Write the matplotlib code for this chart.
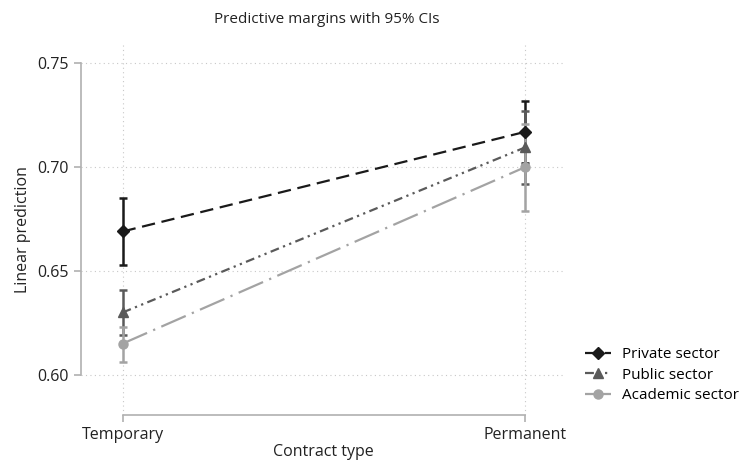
import matplotlib
matplotlib.use("Agg")
import matplotlib.pyplot as plt

plt.rcParams['font.family'] = ['Open Sans', 'DejaVu Sans']

contract = ['Temporary', 'Permanent']
xpos = [0, 1]

private = [0.669, 0.717]
private_lo = [0.653, 0.702]
private_hi = [0.685, 0.732]

public = [0.630, 0.7095]
public_lo = [0.619, 0.692]
public_hi = [0.641, 0.727]

academic = [0.615, 0.700]
academic_lo = [0.606, 0.679]
academic_hi = [0.623, 0.721]

yticks = [0.60, 0.65, 0.70, 0.75]

fig = plt.figure(figsize=(7.41, 4.65), dpi=100)
ax = fig.add_axes([0.109, 0.107, 0.654, 0.797])

series = [
    ('Private sector', private, private_lo, private_hi, '#1a1a1a', 'D', (0, (6, 3))),
    ('Public sector', public, public_lo, public_hi, '#5a5a5a', '^', (0, (4, 2, 1, 2, 1, 2))),
    ('Academic sector', academic, academic_lo, academic_hi, '#a3a3a3', 'o', (0, (12, 3, 1, 3))),
]

for name, vals, lo, hi, col, mk, ls in series:
    err = [[v - l for v, l in zip(vals, lo)], [h - v for v, h in zip(vals, hi)]]
    ax.errorbar(xpos, vals, yerr=err, fmt='none', ecolor=col, elinewidth=1.8,
                capsize=3, capthick=1.8, zorder=3)
    ax.plot(xpos, vals, color=col, linestyle=ls, linewidth=1.6, marker=mk,
            markersize=6.5, label=name, zorder=4)

ax.set_xlim(-0.104, 1.1)
ax.set_ylim(0.5805, 0.759)
ax.set_xticks(xpos)
ax.set_xticklabels(contract)
ax.set_yticks(yticks)
ax.set_yticklabels(['%.2f' % t for t in yticks])

ax.grid(True, linestyle=(0, (1, 3)), color='#c8c8c8', linewidth=0.8)
ax.set_axisbelow(True)

for s in ['top', 'right']:
    ax.spines[s].set_visible(False)
ax.spines['left'].set_bounds(0.60, 0.75)
ax.spines['bottom'].set_bounds(0, 1)
for s in ['left', 'bottom']:
    ax.spines[s].set_color('#b0b0b0')
    ax.spines[s].set_linewidth(1.2)
ax.tick_params(colors='#b0b0b0', labelcolor='#222222', labelsize=11.5, length=5, width=1.2)

ax.set_xlabel('Contract type', fontsize=11.5, color='#222222', labelpad=1)
ax.set_ylabel('Linear prediction', fontsize=11.5, color='#222222', labelpad=5)
fig.text(0.441, 0.958, 'Predictive margins with 95% CIs', ha='center', va='center',
         fontsize=11, color='#222222')

leg = ax.legend(loc='center left', bbox_to_anchor=(1.041, 0.108), frameon=False,
                fontsize=11, handlelength=1.7, labelspacing=0.35, borderaxespad=0,
                borderpad=0, handletextpad=0.7)

fig.savefig('out.png', dpi=100)
